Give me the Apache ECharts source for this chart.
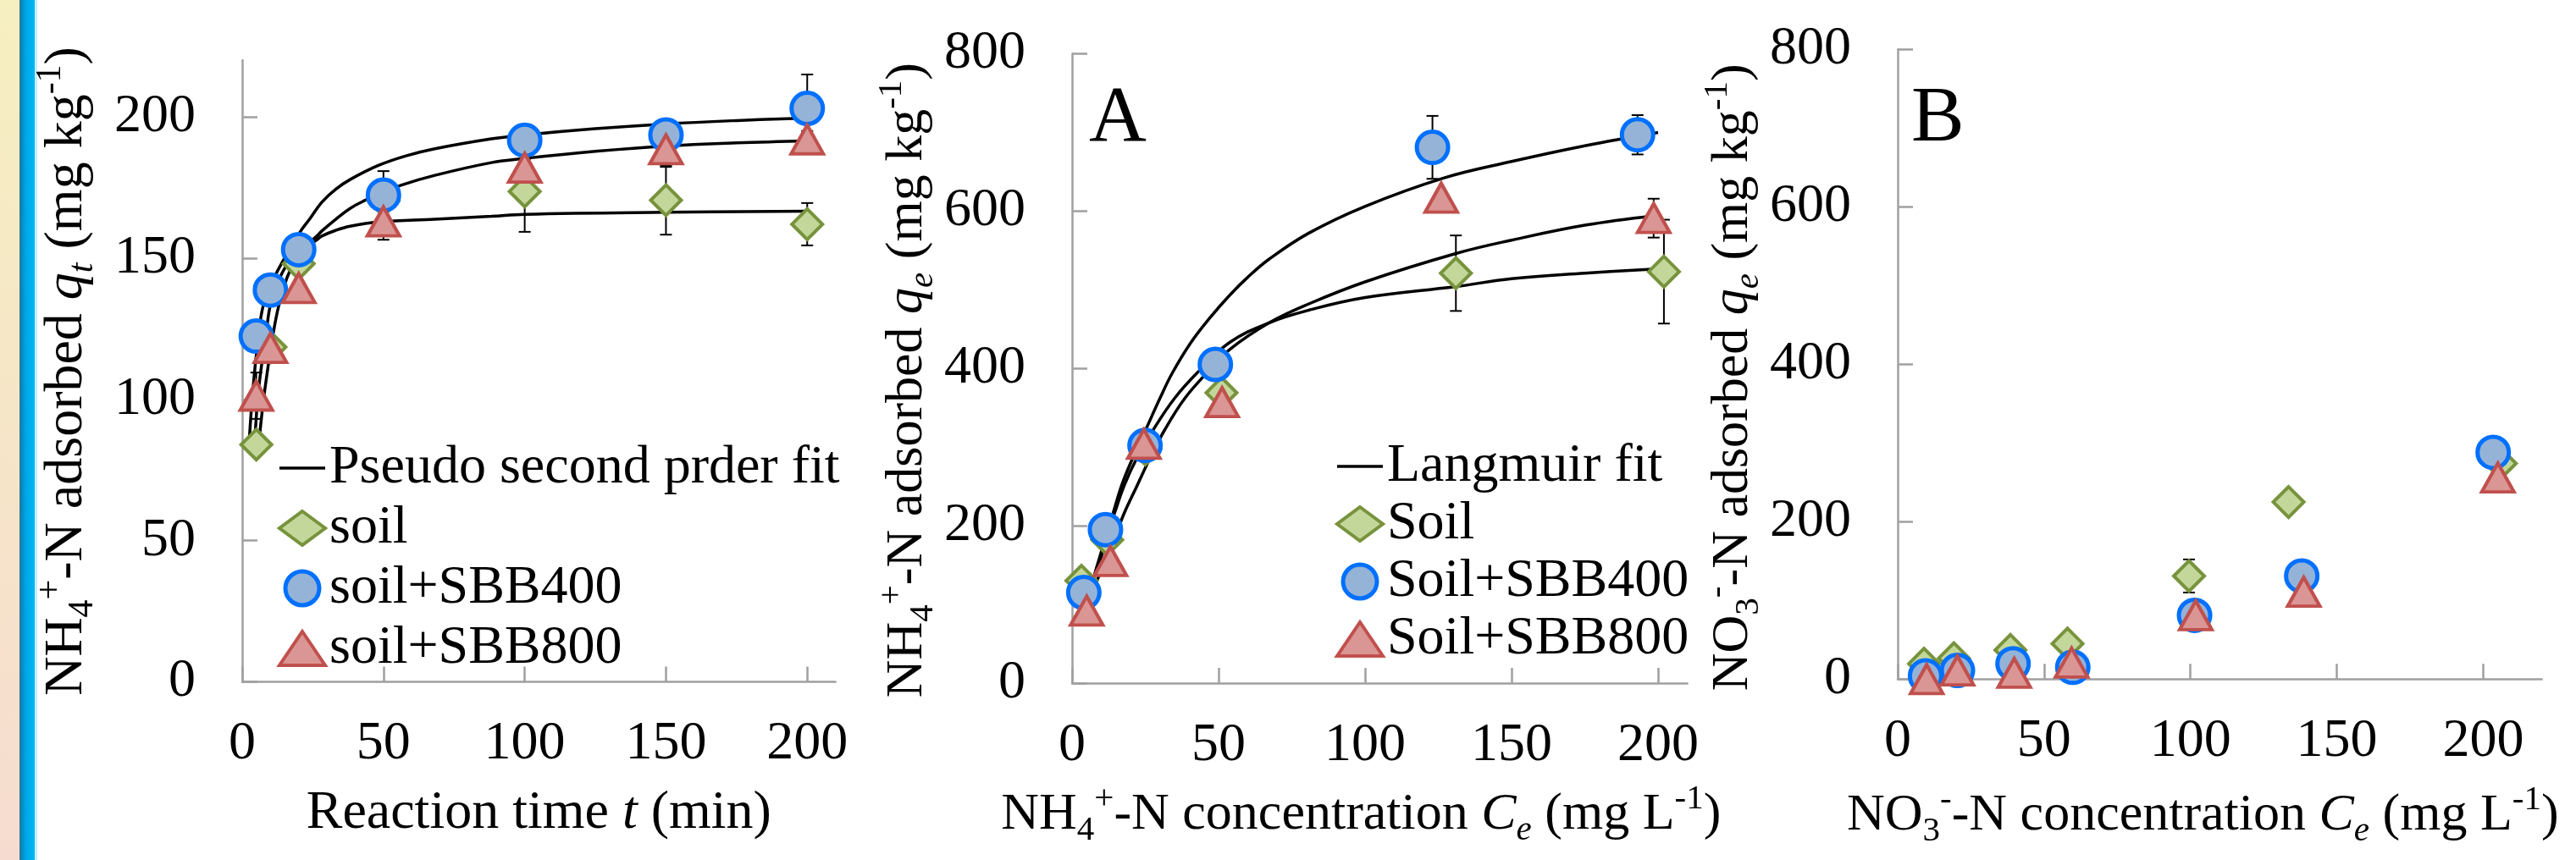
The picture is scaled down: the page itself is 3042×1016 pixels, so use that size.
<!DOCTYPE html>
<html><head><meta charset="utf-8">
<script src="https://cdn.jsdelivr.net/npm/echarts@6/dist/echarts.min.js"></script>
<style>html,body{margin:0;padding:0;background:#fff}#c{width:3042px;height:1016px}</style>
</head><body><div id="c"></div>
<script>
// ---------- Panel 1: kinetics ----------
const p1Time = [5, 10, 20, 50, 100, 150, 200];
const p1Soil = [84, 118.5, 148, 170.3, 173.6, 170.5, 162];
const p1Soil400 = [122.4, 138.7, 153, 172.3, 191.7, 193.6, 203];
const p1Soil800 = [101.3, 118.2, 139.4, 163, 182, 188.5, 192];
const p1SoilErr = [2, 3, 2, 3, 14.3, 12.2, 7.5];
const p1Soil400Err = [2, 2, 2, 8.5, 3, 3, 12];
const p1Soil800Err = [8.2, 3, 2, 6.5, 3, 6.2, 3];
const p1Fit400 = [[2.5,85.5],[3.8,103.4],[5.5,120],[7.5,133.4],[11.5,143.4],[15,150],[18,155.5],[21.2,160.3],[24,164],[28.2,169.8],[33,174.3],[38.2,177.8],[48.2,182.8],[58,186.2],[68.2,188.7],[88.2,192.2],[100,193.6],[125,195.8],[150,197.5],[175,198.7],[200,199.6]];
const p1Fit800 = [[4.5,85.5],[5.8,103.4],[8.5,123.4],[10,133.4],[13.5,143.4],[17,149.5],[20,153],[23,155],[26.2,157.6],[28.2,159.6],[33.2,163.8],[38.2,167.6],[43.2,170.3],[50,173.3],[56.2,175.8],[68.2,179.3],[88.2,183.8],[100,185.3],[125,187.8],[150,189.7],[175,190.8],[200,191.5]];
const p1FitSoil = [[6,85.5],[8,103.4],[11,123.4],[13,133.4],[16,143.4],[19,149.5],[22,153.3],[26.2,156.3],[28.2,157.8],[33,159.8],[38.2,161.3],[48.2,162.8],[68.2,163.8],[88.2,164.8],[100,165.5],[150,166.2],[200,166.6]];
const p1XTicks = [0, 50, 100, 150, 200];
const p1YTicks = [0, 50, 100, 150, 200];

// ---------- Panel 2: NH4 isotherm ----------
const p2SoilC = [3.2, 12, 25, 51, 131, 202];
const p2Soil = [130, 182, 297, 369, 521, 523];
const p2SoilErr = [3, 3, 3, 5, 48, 66];
const p2Soil400C = [4, 11.4, 24.9, 48.9, 123, 193];
const p2Soil400 = [115, 195, 302, 405, 681, 697];
const p2Soil400Err = [3, 3, 3, 3, 40, 25];
const p2Soil800C = [5, 13.1, 24.5, 51.2, 126, 198.5];
const p2Soil800 = [92, 155, 304, 357, 617, 591];
const p2Soil800Err = [3, 3, 3, 3, 3, 24.7];
const p2Fit400 = [[4,80],[5.5,102],[6.7,122],[8,142],[9.6,162],[12,193],[14,216],[16.9,251],[20,280],[25.5,325],[30,362],[34.2,394],[40.4,432],[47,464],[53.8,493],[60,516],[67.3,539],[80.8,572],[100,606],[126.8,642],[150,663],[175,683],[200,700]];
const p2FitSoil = [[4,85],[5.5,106],[6.7,125],[8,141],[10.1,162],[12,189],[14.5,216],[17.8,251],[22,285],[27.9,323],[35,362],[42.9,395],[53.8,433],[67.3,458],[80.8,474],[100,490],[131,504],[150,514],[175,521],[201.9,527]];
const p2Fit800 = [[5,92],[6.8,112],[8.7,132],[10.5,147],[12.5,162],[15,189],[17.8,216],[22.2,251],[26.5,285],[31.8,323],[38.5,362],[46.2,395],[53.8,424],[67.3,458],[80.8,482],[100,510],[131,546],[150,563],[175,582],[198.5,594]];
const p2XTicks = [0, 50, 100, 150, 200];
const p2YTicks = [0, 200, 400, 600, 800];

// ---------- Panel 3: NO3 ----------
const p3SoilC = [9, 19.2, 38.5, 58, 99.5, 133.5, 206];
const p3Soil = [19.5, 26.5, 37, 45, 131, 225, 274];
const p3SoilErr = [2, 2, 2, 2, 21, 3, 3];
const p3Soil400C = [9.5, 20.4, 39.4, 59.8, 101.4, 138, 203.4];
const p3Soil400 = [4, 11, 19.5, 15, 81, 131, 288];
const p3Soil400Err = [2, 2, 2, 2, 2, 2, 2];
const p3Soil800C = [9.9, 20.4, 39.8, 59.4, 101.8, 138.7, 205];
const p3Soil800 = [0, 11, 8, 21, 81, 111, 256];
const p3Soil800Err = [2, 2, 2, 2, 2, 2, 2];
const p3XTicks = [0, 50, 100, 150, 200];
const p3YTicks = [0, 200, 400, 600, 800];

const F = 'Liberation Serif';
const AX = '#A0A0A0';
const FS = 64;
function makeRich(fs) {
  const s = Math.round(fs * 0.66), lh = Math.round(fs * 1.25);
  return {
    n: {fontSize: fs, fontFamily: F, lineHeight: lh, color: '#000'},
    i: {fontSize: fs, fontFamily: F, fontStyle: 'italic', lineHeight: lh, color: '#000'},
    sb: {fontSize: s, fontFamily: F, lineHeight: s, verticalAlign: 'bottom', color: '#000'},
    isb: {fontSize: s, fontFamily: F, fontStyle: 'italic', lineHeight: s, verticalAlign: 'bottom', color: '#000'},
    sp: {fontSize: s, fontFamily: F, lineHeight: s, verticalAlign: 'top', color: '#000'}
  };
}
const rich64 = makeRich(64), rich62 = makeRich(62);
const plainRich = {t: {fontSize: FS, fontFamily: F, lineHeight: FS, color: '#000'}};
const wrapT = v => '{t|' + v + '}';

const STY = {
  soil: {symbol: 'diamond', symbolSize: 36, itemStyle: {color: '#C4D79B', borderColor: '#77933C', borderWidth: 4, opacity: 1}},
  s400: {symbol: 'circle', symbolSize: 37, itemStyle: {color: '#95B3D7', borderColor: '#0070FF', borderWidth: 5, opacity: 1}},
  s800: {symbol: 'triangle', symbolSize: [38, 34], itemStyle: {color: '#DA9694', borderColor: '#C0504D', borderWidth: 4, opacity: 1}}
};

function xAxis(gi, max, ticks, name, gap, pad, rich) {
  return {
    type: 'value', gridIndex: gi, min: 0, max: max, interval: 50,
    axisLine: {show: true, onZero: false, lineStyle: {color: AX, width: 2.5}},
    axisTick: {show: true, inside: true, length: 18, lineStyle: {color: AX, width: 2.5}, customValues: ticks},
    axisLabel: {customValues: ticks, margin: 42, fontSize: FS, fontFamily: F, color: '#000', formatter: wrapT, rich: plainRich},
    splitLine: {show: false},
    name: name, nameLocation: 'middle', nameGap: gap,
    nameTextStyle: {rich: rich, padding: pad}
  };
}
function yAxis(gi, max, ticks, name, gap, pad, rich) {
  return {
    type: 'value', gridIndex: gi, min: 0, max: max, interval: ticks[1] - ticks[0],
    axisLine: {show: true, onZero: false, lineStyle: {color: AX, width: 2.5}},
    axisTick: {show: true, inside: true, length: 18, lineStyle: {color: AX, width: 2.5}, customValues: ticks},
    axisLabel: {customValues: ticks, margin: 55, fontSize: FS, fontFamily: F, color: '#000', formatter: wrapT, rich: plainRich},
    splitLine: {show: false},
    name: name, nameLocation: 'middle', nameGap: gap,
    nameTextStyle: {rich: rich, padding: pad}
  };
}

function errRender(params, api) {
  const x = api.value(0), lo = api.value(1), hi = api.value(2);
  const a = api.coord([x, lo]), b = api.coord([x, hi]);
  const w = 7;
  const st = {stroke: '#000', lineWidth: 2};
  return {type: 'group', children: [
    {type: 'line', shape: {x1: a[0], y1: a[1], x2: b[0], y2: b[1]}, style: st},
    {type: 'line', shape: {x1: a[0] - w, y1: a[1], x2: a[0] + w, y2: a[1]}, style: st},
    {type: 'line', shape: {x1: b[0] - w, y1: b[1], x2: b[0] + w, y2: b[1]}, style: st}
  ]};
}
function errSeries(gi, xs, ys, es, id) {
  return {
    type: 'custom', id: id, name: id, xAxisIndex: gi, yAxisIndex: gi, renderItem: errRender,
    data: xs.map((x, i) => [x, ys[i] - es[i], ys[i] + es[i]]),
    encode: {x: 0, y: [1, 2]}, z: 3, silent: true, clip: false
  };
}
function fitSeries(gi, name, pts) {
  return {type: 'line', name: name, xAxisIndex: gi, yAxisIndex: gi, data: pts, smooth: 0.4,
    symbol: 'none', showSymbol: false, lineStyle: {color: '#000', width: 3.5}, itemStyle: {color: '#000'}, z: 2, silent: true};
}
function scat(gi, name, xs, ys, sty) {
  return Object.assign({type: 'scatter', name: name, xAxisIndex: gi, yAxisIndex: gi,
    data: xs.map((x, i) => [x, ys[i]]), z: 5, clip: false, silent: true}, sty);
}
function legendItem(name, sty) {
  return {name: name, icon: sty.symbol, itemStyle: sty.itemStyle};
}
const LINE_ICON = 'path://M0,0H54V3.5H0Z';

const fitName1 = 'Pseudo second prder fit';
const fitName2 = 'Langmuir fit';

const option = {
  animation: false,
  backgroundColor: '#fff',
  grid: [
    {left: 286, top: 71.3, width: 700.6, height: 734.3},
    {left: 1266, top: 63.5, width: 726.6, height: 743.4},
    {left: 2241, top: 58.3, width: 760.6, height: 744}
  ],
  xAxis: [
    xAxis(0, 210, p1XTicks, '{n|Reaction time }{i|t}{n| (min)}', 116, [0, 0, 0, 0], rich64),
    xAxis(1, 210, p2XTicks, '{n|NH}{sb|4}{sp|+}{n|-N concentration }{i|C}{isb|e}{n| (mg L}{sp|-1}{n|)}', 117, [0, 44, 0, 0], rich62),
    xAxis(2, 220, p3XTicks, '{n|NO}{sb|3}{sp|-}{n|-N concentration }{i|C}{isb|e}{n| (mg L}{sp|-1}{n|)}', 122, [0, 40, 0, 0], rich62)
  ],
  yAxis: [
    yAxis(0, 220, p1YTicks, '{n|NH}{sb|4}{sp|+}{n|-N adsorbed }{i|q}{isb|t}{n| (mg kg}{sp|-1}{n|)}', 167, [0, 0, 0, 0], rich64),
    yAxis(1, 800, p2YTicks, '{n|NH}{sb|4}{sp|+}{n|-N adsorbed }{i|q}{isb|e}{n| (mg kg}{sp|-1}{n|)}', 149, [0, 28, 0, 0], rich62),
    yAxis(2, 800, p3YTicks, '{n|NO}{sb|3}{sp|-}{n|-N adsorbed }{i|q}{isb|e}{n| (mg kg}{sp|-1}{n|)}', 154, [0, 31, 0, 0], rich62)
  ],
  legend: [
    {orient: 'vertical', left: 328, top: 521, padding: 0, itemGap: 7, itemWidth: 54, itemHeight: 40, selectedMode: false,
      formatter: wrapT, textStyle: {fontSize: FS, fontFamily: F, color: '#000', rich: plainRich},
      data: [{name: fitName1, icon: LINE_ICON, itemStyle: {color: '#000'}}, legendItem('soil', STY.soil), legendItem('soil+SBB400', STY.s400), legendItem('soil+SBB800', STY.s800)]},
    {orient: 'vertical', left: 1577, top: 519, padding: 0, itemGap: 4, itemWidth: 54, itemHeight: 40, selectedMode: false,
      formatter: wrapT, textStyle: {fontSize: FS, fontFamily: F, color: '#000', rich: plainRich},
      data: [{name: fitName2, icon: LINE_ICON, itemStyle: {color: '#000'}}, legendItem('Soil', STY.soil), legendItem('Soil+SBB400', STY.s400), legendItem('Soil+SBB800', STY.s800)]}
  ],
  graphic: [
    {type: 'rect', shape: {x: 0, y: 0, width: 24, height: 1016}, z: -10,
      style: {fill: new echarts.graphic.LinearGradient(0, 0, 0, 1, [{offset: 0, color: '#F6EFC0'}, {offset: 1, color: '#F6DCD0'}])}},
    {type: 'rect', shape: {x: 23, y: 0, width: 19, height: 1016}, z: -10,
      style: {fill: new echarts.graphic.LinearGradient(0, 0, 1, 0, [{offset: 0, color: '#4A7080'}, {offset: 0.12, color: '#0088C0'}, {offset: 0.4, color: '#00A8E8'}, {offset: 1, color: '#00B8F5'}])}},
    {type: 'rect', shape: {x: 41, y: 0, width: 3, height: 1016}, z: -10, style: {fill: '#C4F0FF'}},
    {type: 'text', x: 1286, y: 141, z: 10, style: {text: 'A', font: '94px "Liberation Serif"', fill: '#000', verticalAlign: 'middle', align: 'left'}},
    {type: 'text', x: 2257, y: 141, z: 10, style: {text: 'B', font: '94px "Liberation Serif"', fill: '#000', verticalAlign: 'middle', align: 'left'}}
  ],
  series: [
    fitSeries(0, fitName1, p1Fit400), fitSeries(0, fitName1, p1Fit800), fitSeries(0, fitName1, p1FitSoil),
    errSeries(0, p1Time, p1Soil, p1SoilErr, 'e1s'),
    errSeries(0, p1Time, p1Soil400, p1Soil400Err, 'e1a'),
    errSeries(0, p1Time, p1Soil800, p1Soil800Err, 'e1b'),
    scat(0, 'soil', p1Time, p1Soil, STY.soil),
    scat(0, 'soil+SBB400', p1Time, p1Soil400, STY.s400),
    scat(0, 'soil+SBB800', p1Time, p1Soil800, STY.s800),

    fitSeries(1, fitName2, p2Fit400), fitSeries(1, fitName2, p2FitSoil), fitSeries(1, fitName2, p2Fit800),
    errSeries(1, p2SoilC, p2Soil, p2SoilErr, 'e2s'),
    errSeries(1, p2Soil400C, p2Soil400, p2Soil400Err, 'e2a'),
    errSeries(1, p2Soil800C, p2Soil800, p2Soil800Err, 'e2b'),
    scat(1, 'Soil', p2SoilC, p2Soil, STY.soil),
    scat(1, 'Soil+SBB400', p2Soil400C, p2Soil400, STY.s400),
    scat(1, 'Soil+SBB800', p2Soil800C, p2Soil800, STY.s800),

    errSeries(2, p3SoilC, p3Soil, p3SoilErr, 'e3s'),
    errSeries(2, p3Soil400C, p3Soil400, p3Soil400Err, 'e3a'),
    errSeries(2, p3Soil800C, p3Soil800, p3Soil800Err, 'e3b'),
    scat(2, 'NO3 soil', p3SoilC, p3Soil, STY.soil),
    scat(2, 'NO3 soil+SBB400', p3Soil400C, p3Soil400, STY.s400),
    scat(2, 'NO3 soil+SBB800', p3Soil800C, p3Soil800, STY.s800)
  ]
};
const chart = echarts.init(document.getElementById('c'), null, {renderer: 'canvas'});
chart.setOption(option);
</script></body></html>
